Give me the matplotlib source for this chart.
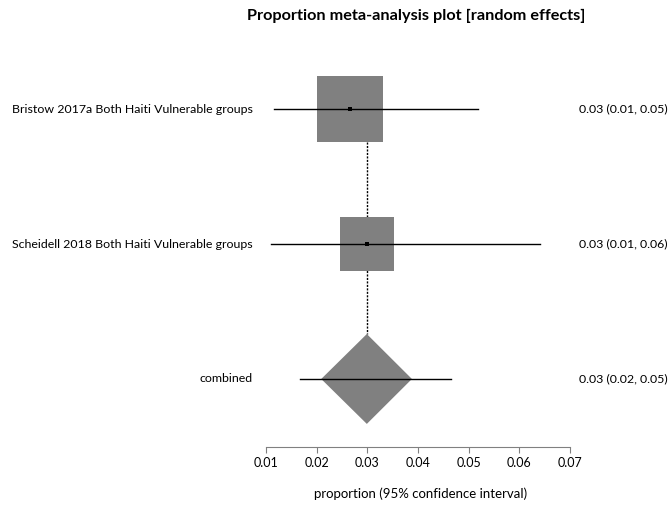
import matplotlib
matplotlib.use('Agg')
import matplotlib.pyplot as plt
import matplotlib.transforms as mtransforms
from matplotlib.patches import Polygon
import numpy as np

plt.rcParams['font.family'] = ['Lato', 'DejaVu Sans']

# study data
studies = ['Bristow 2017a Both Haiti Vulnerable groups',
           'Scheidell 2018 Both Haiti Vulnerable groups']
estimates = [0.0266, 0.0299]
ci_low = [0.0116, 0.0109]
ci_high = [0.0519, 0.0641]
weights = [60.2, 39.8]
study_text = ['0.03 (0.01, 0.05)', '0.03 (0.01, 0.06)']

pooled_label = 'combined'
pooled_est = 0.0299
pooled_low = 0.0209
pooled_high = 0.0388
pooled_ci_low = 0.0167
pooled_ci_high = 0.0465
pooled_text = '0.03 (0.02, 0.05)'

xticks = [0.01, 0.02, 0.03, 0.04, 0.05, 0.06, 0.07]

W, H = 671, 508
fig = plt.figure(figsize=(W / 100, H / 100), dpi=100)
ax = fig.add_axes([266 / W, 61 / H, 304 / W, 406 / H])
ax.set_xlim(0.01, 0.07)
ax.set_ylim(2.504, -0.504)

grey = '#808080'
rows = np.arange(len(studies))
pooled_row = len(studies)

# square sizes scaled by weight (side in points)
sides = 6.19 * np.sqrt(weights)
box_half = [s / 72 * 100 / 2 / 135 for s in sides]  # half height in row units
dia_half = 0.333

# dotted line at the pooled estimate
ax.plot([pooled_est, pooled_est], [rows[0] + box_half[0], pooled_row - dia_half],
        color='black', linestyle=(0, (1.5, 1)), linewidth=1, zorder=1)

ax.scatter(estimates, rows, s=sides ** 2, marker='s', color=grey, linewidths=0, zorder=2)
for i in rows:
    ax.plot([ci_low[i], ci_high[i]], [i, i], color='black', linewidth=1, zorder=3)
ax.scatter(estimates, rows, s=6, marker='s', color='black', linewidths=0, zorder=4)

diamond = Polygon([(pooled_low, pooled_row), (pooled_est, pooled_row - dia_half),
                   (pooled_high, pooled_row), (pooled_est, pooled_row + dia_half)],
                  closed=True, facecolor=grey, edgecolor='none', zorder=2)
ax.add_patch(diamond)
ax.plot([pooled_ci_low, pooled_ci_high], [pooled_row, pooled_row], color='black', linewidth=1, zorder=3)

# row labels left and right
trans = mtransforms.blended_transform_factory(fig.transFigure, ax.transData)
for i, name in enumerate(studies + [pooled_label]):
    fig.text(253 / W, i, name, transform=trans, ha='right', va='center', fontsize=8.9)
for i, t in enumerate(study_text + [pooled_text]):
    fig.text(579 / W, i, t, transform=trans, ha='left', va='center', fontsize=8.9)

ax.set_yticks([])
for side in ['top', 'left', 'right']:
    ax.spines[side].set_visible(False)
ax.spines['bottom'].set_color(grey)
ax.set_xticks(xticks)
ax.set_xticklabels(['%.2f' % x for x in xticks])
ax.tick_params(axis='x', colors=grey, labelcolor='black', length=4, labelsize=9, pad=3)

fig.text(421 / W, 1 - 494 / H, 'proportion (95% confidence interval)', ha='center', va='center', fontsize=9.5)
fig.text(416 / W, 1 - 16 / H, 'Proportion meta-analysis plot [random effects]',
         ha='center', va='center', fontsize=11.7, fontweight='bold')

fig.savefig('out.png', dpi=100)
